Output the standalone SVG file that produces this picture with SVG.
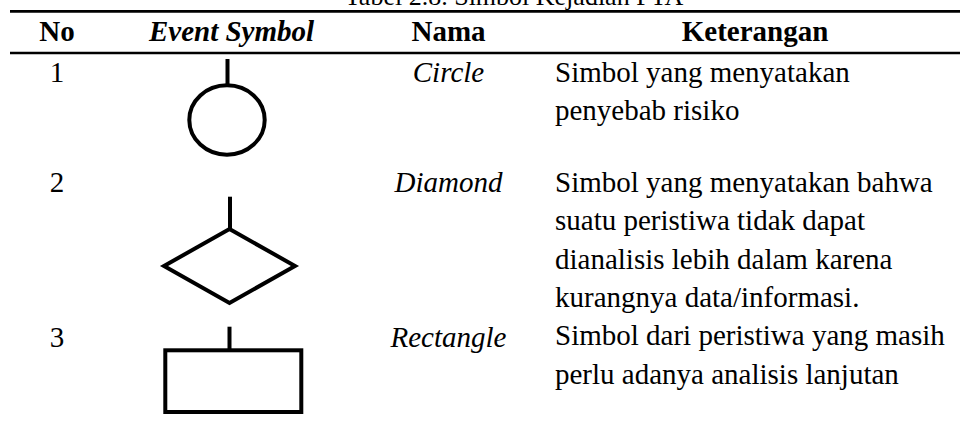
<svg xmlns="http://www.w3.org/2000/svg" width="960" height="423" viewBox="0 0 960 423" font-family="'Liberation Serif', 'Times New Roman', Tinos, Times, serif">
<style>
text { font-family: "Liberation Serif", "Times New Roman", Tinos, Times, serif; fill: #000; }
.hd { font-size: 29px; font-weight: bold; text-anchor: middle; }
.hdi { font-style: italic; }
.num { font-size: 29px; text-anchor: middle; }
.nm { font-size: 29px; font-style: italic; text-anchor: middle; }
.ds { font-size: 29px; }
.title { font-size: 26px; text-anchor: middle; }
.rule { stroke: #000; stroke-width: 2.7; }
.sym { fill: none; stroke: #000; stroke-width: 4; }
</style>
<rect width="960" height="423" fill="#fff"/>
<g id="title">
<text class="title" x="514" y="4.5" font-family="Liberation Serif, serif">Tabel 2.8. Simbol Kejadian FTA</text>
</g>
<g id="header">
<line class="rule" x1="10" y1="11.4" x2="960" y2="11.4"/>
<text class="hd" x="57" y="40.5">No</text>
<text class="hd hdi" x="231.5" y="40.5">Event Symbol</text>
<text class="hd" x="448.5" y="40.5">Nama</text>
<text class="hd" x="755" y="40.5">Keterangan</text>
<line class="rule" x1="10" y1="53" x2="960" y2="53"/>
</g>
<g id="row-circle">
<text class="num" x="57" y="82">1</text>
<ellipse class="sym" cx="227" cy="120" rx="37.7" ry="34.7"/>
<text class="nm" x="448.5" y="82">Circle</text>
<text class="ds" x="555" y="82">Simbol yang menyatakan</text>
<text class="ds" x="555" y="120">penyebab risiko</text>
</g>
<g id="row-diamond">
<text class="num" x="57" y="192">2</text>
<polygon class="sym" points="229.5,229 295,266 229.5,303 164,266"/>
<text class="nm" x="448.5" y="192">Diamond</text>
<text class="ds" x="555" y="192">Simbol yang menyatakan bahwa</text>
<text class="ds" x="555" y="230.3">suatu peristiwa tidak dapat</text>
<text class="ds" x="555" y="268.6">dianalisis lebih dalam karena</text>
<text class="ds" x="555" y="307">kurangnya data/informasi.</text>
</g>
<g id="row-rectangle">
<text class="num" x="57" y="346.7">3</text>
<rect class="sym" x="165.3" y="350.3" width="136" height="61.7"/>
<text class="nm" x="448.5" y="346.7">Rectangle</text>
<text class="ds" x="555" y="345.3">Simbol dari peristiwa yang masih</text>
<text class="ds" x="555" y="383.6">perlu adanya analisis lanjutan</text>
</g>
<g id="connectors">
<line class="sym" x1="227.5" y1="59" x2="227.5" y2="85.5"/>
<line class="sym" x1="230" y1="196.7" x2="230" y2="229"/>
<line class="sym" x1="229.5" y1="326.7" x2="229.5" y2="350.3"/>
</g>
</svg>
